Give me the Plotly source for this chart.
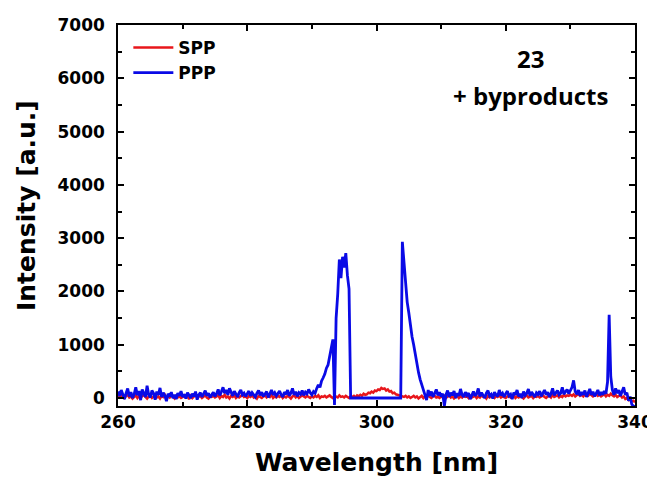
import numpy as np
import plotly.graph_objects as go

# Wavelength grid (nm), 0.25 nm step
wavelength = np.linspace(260, 340, 321)

ppp = [
    120, 40, 150, 60, -20, 90, 180, 30, 110, 0, 70, 200, 50, 130, -40, 160, 80, 20, 230, 60,
    10, 140, 90, -30, 120, 60, 190, 20, 100, 40, -60, 80, 30, 110, 0, 60, -20, 90, 40, 130,
    20, 70, -10, 100, 50, 0, 80, 30, 120, -30, 60, 100, 20, 70, 140, 40, 90, 10, 60, 110,
    30, 80, 160, 50, 120, 200, 90, 150, 60, 180, 110, 40, 130, 70, 20, 100, 150, 60, 90, 30,
    80, 130, 40, 100, 60, 20, 90, 140, 50, 110, 30, 70, 120, 10, 80, 150, 60, 100, 40, 90,
    130, 60, 20, 110, 70, 150, 40, 90, 180, 60, 120, 30, 100, 70, 140, 50, 110, 80, 160, 100,
    60, 120, 90, 180, 250, 200, 320, 380, 450, 560, 620, 780, 950, 1100, -130, 1500, 1950, 2600, 2250, 2650,
    2450, 2720, 2300, 2050, 0, 0, 0, 0, 0, 0, 0, 0, 0, 0, 0, 0, 0, 0, 0, 0,
    0, 0, 0, 0, 0, 0, 0, 0, 0, 0, 0, 0, 0, 0, 0, 0, 2930, 2500, 2150, 1800,
    1600, 1350, 1150, 1000, 800, 650, 480, 350, 250, 120, 60, -40, 150, 40, 120, 20, 90, 160, 50, 110,
    30, 80, -150, 60, 140, 20, 100, 50, 130, 0, 90, 40, 170, 60, 20, 110, 50, 90, -20, 70,
    120, 40, 80, 180, 30, 100, 60, 0, 90, 140, 40, 70, -10, 110, 60, 30, 150, 50, 90, 20,
    80, 130, 40, 70, -20, 100, 60, 150, 30, 80, 0, 120, 50, 90, 170, 40, 110, 60, 20, 100,
    70, 130, 30, 90, 150, 60, 110, 20, 80, 180, 50, 100, 140, 60, 90, 200, 70, 120, 160, 80,
    130, 200, 330, 120, 70, 150, 40, 110, 60, 140, 20, 100, 170, 60, 120, 30, 90, 150, 50, 110,
    60, 130, 80, 300, 1560, 400, 150, 60, 180, 90, 150, 40, 120, 200, 60, 100, -50, 30, -120, -150,
    -160,
]

spp = [
    30, 10, 50, 20, 0, 40, 60, 10, 30, -10, 20, 50, 0, 40, 10, 30, 60, 20, -10, 30,
    40, 0, 20, 50, 10, 30, -10, 40, 20, 60, 0, 30, 10, 50, 20, -10, 40, 10, 30, 0,
    20, 50, 10, 30, -20, 40, 0, 30, 60, 10, 20, 40, 0, 30, 50, 10, -10, 30, 20, 40,
    10, 30, 50, 0, 40, 20, 60, 10, 30, -10, 40, 20, 50, 0, 30, 10, 40, 60, 20, 30,
    0, 40, 20, 50, 10, 30, -10, 40, 20, 0, 30, 50, 10, 40, 20, 60, 0, 30, 10, 40,
    20, 50, 0, 30, 10, 40, 20, -10, 30, 50, 10, 40, 0, 20, 50, 30, 10, 40, 20, 0,
    30, 10, 40, 20, 50, 0, 30, 20, 40, 10, 30, 50, 20, 0, 40, 30, 10, 50, 20, 30,
    10, 40, 20, 0, 30, 20, 40, 10, 50, 30, 60, 40, 80, 60, 70, 100, 90, 120, 100, 140,
    130, 160, 150, 190, 170, 180, 140, 160, 120, 130, 90, 100, 70, 60, 50, 40, 30, 20, 40, 10,
    30, 0, 20, 40, 10, 30, -10, 20, 40, 0, 30, 10, 50, 20, 0, 30, 40, 10, 20, 0,
    30, 10, 40, 0, 20, 50, 10, 30, -10, 20, 40, 0, 30, 10, 50, 20, 30, 0, 40, 10,
    20, 40, 0, 30, 10, 50, 20, 30, -10, 40, 10, 30, 20, 0, 40, 20, 50, 10, 30, 20,
    0, 30, 40, 10, 20, 50, 0, 30, 10, 40, 20, -10, 30, 50, 10, 20, 40, 0, 30, 20,
    40, 10, 30, 50, 20, 0, 30, 40, 10, 60, 20, 30, 50, 10, 40, 20, 60, 30, 50, 40,
    60, 40, 70, 30, 50, 80, 40, 60, 30, 70, 50, 40, 80, 60, 30, 50, 70, 40, 60, 30,
    50, 70, 30, 60, 40, 80, 50, 30, 60, 20, 40, 50, 10, 30, -20, 0, -40, -20, -60, -50,
    -80,
]

x_ticks = [260, 280, 300, 320, 340]
y_ticks = [0, 1000, 2000, 3000, 4000, 5000, 6000, 7000]

FONT = "DejaVu Sans"

fig = go.Figure()
fig.add_trace(go.Scatter(x=wavelength, y=spp, mode="lines", name="SPP",
                         line=dict(color="#e8161b", width=2.5)))
fig.add_trace(go.Scatter(x=wavelength, y=ppp, mode="lines", name="PPP",
                         line=dict(color="#0a0ae6", width=2.8)))

axis_common = dict(
    showline=True, linecolor="black", linewidth=1.5, mirror="ticks",
    ticks="inside", ticklen=6, tickwidth=1.5, tickcolor="black",
    showgrid=False, zeroline=False, automargin=False,
    tickfont=dict(family=FONT, size=17, color="black", weight="bold"),
)

fig.update_xaxes(
    range=[260, 340], tickvals=x_ticks, ticktext=[str(v) for v in x_ticks],
    minor=dict(ticks="inside", ticklen=4, dtick=10, tick0=260, tickcolor="black", tickwidth=1.5),
    title=dict(text="<b>Wavelength [nm]</b>", font=dict(family=FONT, size=25, color="black"),
               standoff=22),
    **axis_common,
)
fig.update_yaxes(
    range=[-150, 7000], tickvals=y_ticks, ticktext=[str(v) for v in y_ticks],
    minor=dict(ticks="inside", ticklen=4, dtick=500, tick0=0, tickcolor="black", tickwidth=1.5),
    ticklabelstandoff=8,
    **axis_common,
)

# y-axis title (placed slightly above the axis centre, as in the original)
fig.add_annotation(x=-0.176, y=0.525, xref="paper", yref="paper", showarrow=False,
                   xanchor="center", yanchor="middle", textangle=-90,
                   text="<b>Intensity [a.u.]</b>", font=dict(family=FONT, size=25, color="black"))

fig.add_annotation(x=0.797, y=0.913, xref="paper", yref="paper", showarrow=False,
                   xanchor="center", yanchor="middle",
                   text="<b>23</b>", font=dict(family="Open Sans", size=24, color="black"))
fig.add_annotation(x=0.797, y=0.816, xref="paper", yref="paper", showarrow=False,
                   xanchor="center", yanchor="middle",
                   text="<b>+ byproducts</b>", font=dict(family="Open Sans", size=24, color="black"))

fig.update_layout(
    width=655, height=477,
    margin=dict(l=110, r=28, t=17, b=79),
    paper_bgcolor="white", plot_bgcolor="white",
    showlegend=True,
    legend=dict(x=0.02, y=0.987, xanchor="left", yanchor="top",
                bgcolor="rgba(0,0,0,0)", itemwidth=40, tracegroupgap=0,
                font=dict(family=FONT, size=17, color="black", weight="bold")),
)

fig.write_html("out.html")
